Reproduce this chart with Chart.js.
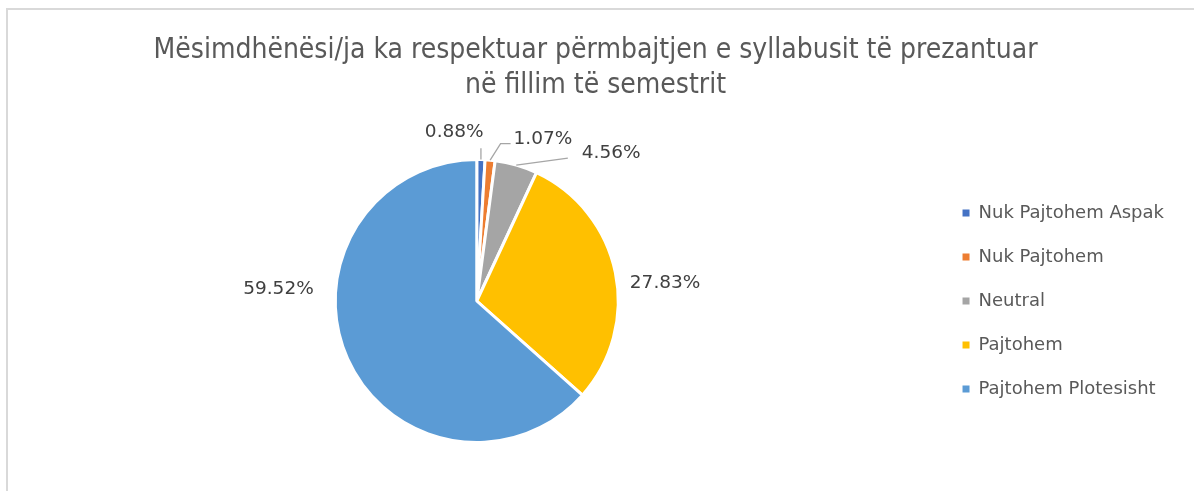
<!DOCTYPE html>
<html>
<head>
<meta charset="utf-8">
<script src="https://cdn.jsdelivr.net/npm/chart.js@4.4.1/dist/chart.umd.min.js"></script>
<style>
  body { margin: 0; background: #fff; overflow: hidden; }
  #frame { position: absolute; left: 6px; top: 8px; width: 1300px; height: 600px; border: 2px solid #d9d9d9; }
  #wrap { position: absolute; left: 0; top: 0; width: 1194px; height: 491px; }
</style>
</head>
<body>
<div id="frame"></div>
<div id="wrap"><canvas id="myChart"></canvas></div>
<script>
const labels = ['Nuk Pajtohem Aspak', 'Nuk Pajtohem', 'Neutral', 'Pajtohem', 'Pajtohem Plotesisht'];
const values = [0.88, 1.07, 4.56, 27.83, 59.52];
const colors = ['#4472C4', '#ED7D31', '#A5A5A5', '#FFC000', '#5B9BD5'];

// where each value label sits: angle from top (clockwise, degrees), distance in radii, leader style
const labelSpots = [
  { a: -7.6, d: 1.203, leader: 'up' },
  { a: 22.3, d: 1.233, leader: 'elbow' },
  { a: 42.3, d: 1.412, leader: 'diag' },
  { a: 84.6, d: 1.337, leader: null },
  { a: 273.45, d: 1.404, leader: null }
];

const pieLabels = {
  id: 'pieLabels',
  afterDatasetsDraw(chart) {
    const ctx = chart.ctx;
    const arcs = chart.getDatasetMeta(0).data;
    ctx.save();
    ctx.font = '18.5px "DejaVu Sans"';
    ctx.textAlign = 'center';
    ctx.textBaseline = 'middle';
    arcs.forEach((arc, i) => {
      const spot = labelSpots[i];
      const r = arc.outerRadius;
      const t = spot.a * Math.PI / 180 - Math.PI / 2;
      const lx = arc.x + r * spot.d * Math.cos(t);
      const ly = arc.y + r * spot.d * Math.sin(t);
      const txt = values[i].toFixed(2) + '%';
      const left = lx - ctx.measureText(txt).width / 2;
      if (spot.leader) {
        const mid = (arc.startAngle + arc.endAngle) / 2;
        const ex = arc.x + r * Math.cos(mid);
        const ey = arc.y + r * Math.sin(mid);
        ctx.strokeStyle = '#a6a6a6';
        ctx.lineWidth = 1.3;
        ctx.beginPath();
        ctx.moveTo(ex, ey);
        if (spot.leader === 'up') {
          ctx.lineTo(ex, ly + 16);
        } else if (spot.leader === 'elbow') {
          ctx.lineTo(left - 13, ly + 4);
          ctx.lineTo(left - 3, ly + 4);
        } else {
          ctx.lineTo(left - 14, ly + 5);
        }
        ctx.stroke();
      }
      ctx.fillStyle = '#404040';
      ctx.fillText(txt, lx, ly);
    });
    ctx.restore();
  }
};

const ctx = document.getElementById('myChart');
new Chart(ctx, {
  type: 'pie',
  data: {
    labels: labels,
    datasets: [{
      data: values,
      backgroundColor: colors,
      borderColor: '#ffffff',
      borderWidth: 3
    }]
  },
  plugins: [pieLabels],
  options: {
    responsive: true,
    maintainAspectRatio: false,
    animation: false,
    layout: { padding: { left: 17, right: 20, top: 0, bottom: 47 } },
    plugins: {
      title: {
        display: true,
        text: ['Mësimdhënësi/ja ka respektuar përmbajtjen e syllabusit të prezantuar', 'në fillim të semestrit'],
        color: '#595959',
        font: { family: '"DejaVu Sans Condensed", "DejaVu Sans"', size: 28, weight: 'normal', lineHeight: 1.25 },
        padding: { top: 33, bottom: 55 }
      },
      legend: {
        position: 'right',
        fullSize: false,
        labels: {
          boxWidth: 7,
          boxHeight: 7,
          padding: 26,
          color: '#595959',
          font: { family: '"DejaVu Sans"', size: 18 },
          generateLabels(chart) {
            const items = Chart.overrides.pie.plugins.legend.labels.generateLabels(chart);
            items.forEach(it => { it.lineWidth = 0; });
            return items;
          }
        }
      },
      tooltip: { enabled: false }
    }
  }
});
</script>
</body>
</html>
